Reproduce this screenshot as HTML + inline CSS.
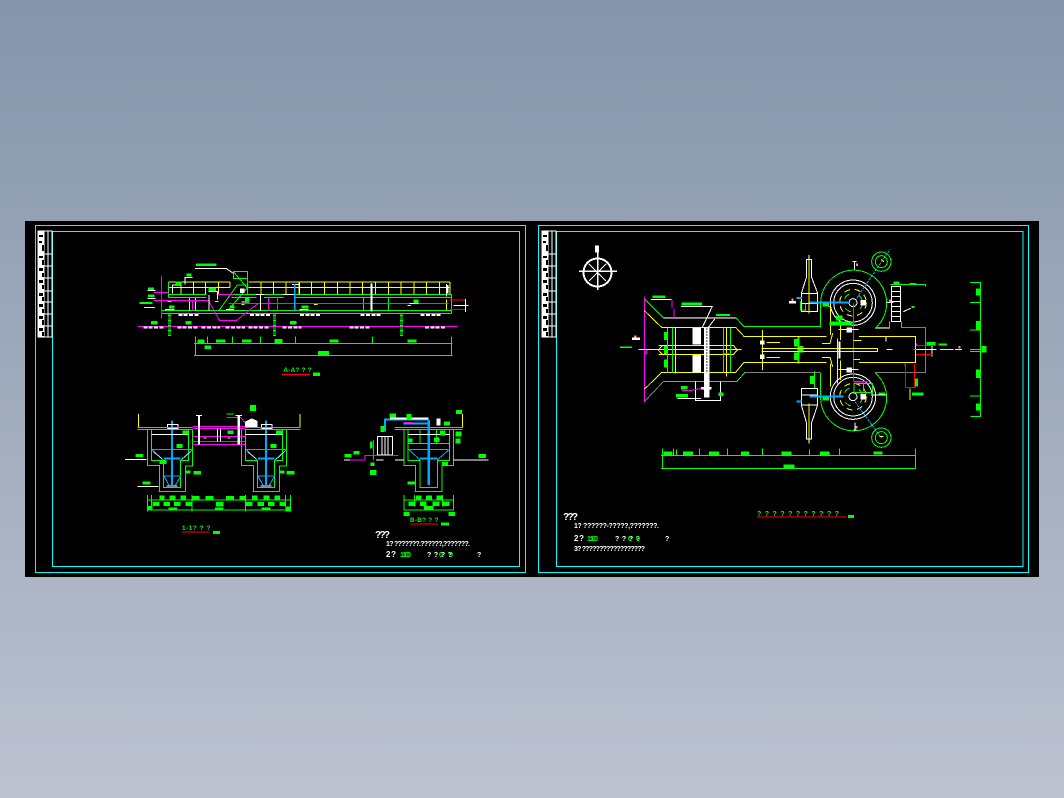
<!DOCTYPE html>
<html><head><meta charset="utf-8"><style>
html,body{margin:0;padding:0;width:1064px;height:798px;overflow:hidden;background:linear-gradient(#8595aa,#bcc2d0)}
svg{position:absolute;left:0;top:0}
text{font-family:"Liberation Sans",sans-serif;font-weight:bold}
.z{fill:none;stroke-width:3}
.z text{stroke:none}
.g{stroke:#0f0}.y{stroke:#ff0}.m{stroke:#f0f}.w{stroke:#fff}.c{stroke:#0af}.r{stroke:#f00}.a{stroke:#808080}.t{stroke:#0ff}
.tg{fill:#0f0;font-size:19px}.tw{fill:#fff;font-size:19px}
</style></head><body>
<svg width="1064" height="798" viewBox="0 0 1064 798" shape-rendering="crispEdges">
<rect x="25" y="221" width="1014" height="356" fill="#000"/>
<g fill="none" stroke="#0ff" stroke-width="1.2">
<rect x="35.5" y="225.5" width="490" height="347"/>
<path d="M52.5 231.5H519.5V566.5H52.5Z"/>
<rect x="538.5" y="225.5" width="490" height="347"/>
<path d="M556.5 231.5H1023V566.5H556.5Z"/>
</g>
<g id="tb" fill="none" stroke="#fff" stroke-width="1">
<rect x="38" y="231" width="6" height="106" fill="#fff"/>
<rect x="38" y="231" width="14" height="106"/>
<path d="M44 231V337M48 231V337M38 254H52M38 266H52M38 278H52M38 291H52M38 302H52M38 314H52M38 326H52"/>
<path stroke="none" fill="#000" d="M39 235h4v2h-4zM39 241h3v2h-3zM42 245h2v6h-2zM39 256h4v2h-4zM42 260h2v5h-2zM39 268h4v3h-4zM42 273h2v4h-2zM39 280h4v3h-4zM42 285h2v4h-2zM39 293h4v3h-4zM42 297h2v4h-2zM39 304h4v3h-4zM42 309h2v4h-2zM39 316h4v3h-4zM42 320h2v5h-2zM39 328h4v3h-4zM42 332h2v4h-2z"/>
</g>
<use href="#tb" x="504"/>

<!-- upper left elevation -->
<g class="z" transform="translate(120,250) scale(.33333)">
<path class="y" d="M145 96H330M385 96H990M145 112H330M385 112H990M145 96V133M183 96V133M221 96V133M256 96V133M295 96V133M330 96V112M423 96V133M460 96V133M498 96V133M537 96V133M575 96V133M613 96V133M652 96V133M690 96V133M728 96V133M766 96V133M805 96V133M843 96V133M882 96V133M920 96V133M958 96V133M990 96V133M208 142V181M226 142V181M980 148V182"/>
<path class="g" d="M145 133H260M335 133H410M432 133H490M527 133H995M145 142H260M335 142H410M432 142H490M527 142H995M125 181H995M125 190H995M995 133V190M145 96V142M298 180L352 105M325 180L385 110M352 105H385M340 65H383V85H340ZM383 65V133M340 65L383 115M730 142V181M805 142V181"/>
<path class="m" stroke-width="3" d="M124 78V205M52 229H1013M325 160H985M100 151H265M290 133H340M265 150L298 211H350L415 160M100 127H145M217 151V181M445 142V181M472 142V181"/>
<path class="w" d="M225 55H318L340 70M195 104V82H218M158 130V105H184M267 135V182M293 125V148M265 125H293M422 135V182M408 134H434M487 134H523M538 98V132M516 103H538M980 102V140M1000 166H1045M1036 147V186M82 122H107M82 145H107M135 178H163M318 178H342M538 178H565M365 156H388M868 160H895"/>
<path class="c" stroke-width="5" d="M524 102V185"/><path class="w" stroke-width="6" d="M755 100V185"/>
<path class="r" d="M990 150H1035M990 178H1035"/>
<path class="y" d="M72 172H105M142 155H155M285 155H296M364 164H374M582 163H593M862 166H873"/>
<path fill="#fff" stroke="none" d="M360 115h14v14h-14zM978 105h8v26h-8z"/>
<path d="M149 190V258M463 190V260M845 190V260" class="g" stroke-width="9" stroke-dasharray="3 2"/>
<path d="M175 195H235M390 195H450M540 195H600M722 195H782M902 195H965M70 233H130M172 233H235M245 233H300M317 233H375M385 233H447M488 233H545M688 233H750M915 233H975" class="w" stroke-width="6" stroke-dasharray="12 4"/>
<path class="g" d="M222 280H998M222 316H998M226 260V316M994 260V316M262 260V280M338 260V280M421 260V280M526 260V280M757 260V280"/>
<path fill="#0f0" stroke="none" d="M232 268h22v11h-22zM288 268h28v10h-28zM366 268h28v10h-28zM463 267h24v12h-24zM628 268h28v10h-28zM862 268h28v10h-28zM254 286h19v11h-19zM594 303h33v13h-33zM228 40h62v8h-62zM200 70h14v10h-14zM166 95h18v10h-18zM84 112h18v8h-18zM84 133h20v8h-20zM58 156h40v6h-40zM147 166h16v10h-16zM266 113h22v10h-22zM375 143h14v10h-14zM330 166h14v10h-14zM545 166h20v10h-20zM880 148h15v11h-15zM93 213h20v11h-20zM197 213h18v11h-18zM510 213h20v11h-20z"/>
<text class="tg" x="490" y="366" textLength="85">A-A? ? ?</text>
<path class="r" d="M486 374H570"/><path fill="#0f0" stroke="none" d="M579 368h21v10h-21z"/>
</g>

<!-- lower sections -->
<g class="z" transform="translate(120,400) scale(.33333)">
<g id="tank">
<path class="g" d="M82 88V197H118V275M94 88V182H130V262H182V182H206V88M218 88V198H197V275M115 275H197"/>
<path class="c" d="M96 149H216M97 150L130 180M216 150L183 180M132 228H182M132 228L148 258M182 228L165 258"/>
<path class="c" stroke-width="7" d="M156 62V255"/><path class="c" stroke-width="6" d="M132 175H182"/>
<path class="w" d="M95 103H205M142 85V74H174V85H142M140 258H172"/>
<path class="w" stroke-width="2" d="M100 155L128 178M212 155L186 178"/>
</g>
<use href="#tank" x="282"/>
<path class="y" d="M55 42V82M540 42V82"/>
<path class="g" d="M52 83H218M52 89H218M375 83H542M375 89H542"/>
<path class="m" d="M218 80H375M218 86H375M218 109H375M218 124H375M218 133H375M320 52H362L378 72M390 25H410"/>
<path class="w" d="M292 85V124M302 85V124"/><path class="w" stroke-width="7" d="M237 48V133M356 48V133"/><path class="w" d="M228 47H246M347 47H366M15 179H80M52 260H115"/>
<path fill="#fff" stroke="none" d="M375 65l20-10 18 8v18h-38z"/>
<path class="y" d="M250 114H260M322 114H332"/>
<path class="g" d="M82 300H512M82 330H512M82 285V335M94 285V320M216 285V335M376 285V335M497 285V320M512 285V335M320 42H342"/>
<path fill="#0f0" stroke="none" d="M47 162h22v9h-22zM187 92h17v12h-17zM170 132h18v12h-18zM118 180h22v12h-22zM220 213h23v10h-23zM195 212h16v8h-16zM67 244h24v10h-24zM322 92h18v10h-18zM452 132h18v12h-18zM468 92h18v12h-18zM500 213h24v10h-24zM480 212h14v8h-14zM390 15h18v18h-18zM118 286h16v12h-16zM148 286h18v12h-18zM182 286h16v12h-16zM218 288h20v12h-20zM256 288h24v12h-24zM318 288h24v12h-24zM358 288h20v12h-20zM396 286h16v12h-16zM430 286h18v12h-18zM464 286h16v12h-16zM98 306h20v12h-20zM130 306h20v12h-20zM162 306h20v12h-20zM196 306h20v12h-20zM288 306h22v14h-22zM378 306h20v12h-20zM412 306h20v12h-20zM444 306h20v12h-20zM478 306h20v12h-20zM82 318h16v14h-16zM145 322h26v9h-26zM285 322h26v9h-26zM425 322h26v9h-26zM497 320h16v14h-16z"/>
<text class="tg" x="186" y="390" textLength="85">1-1? ? ?</text>
<path class="r" d="M186 396H268"/><path fill="#0f0" stroke="none" d="M279 393h21v9h-21z"/>

<!-- right section -->
<path class="g" d="M823 83H1028M823 89H1028M852 89V197H886V275M864 89V182H900V262H952V182H988V89M1000 89V197H966V275M884 275H968M865 130H988M900 88V130M950 88V130"/>
<path class="y" d="M1027 42V82"/>
<path class="c" d="M866 149H986M868 150L900 180M986 150L952 180"/>
<path class="c" stroke-width="7" d="M926 60V255"/><path class="c" stroke-width="6" d="M900 175H952M795 95V58H925M850 70H925"/>
<path class="c" d="M760 120V180"/>
<path class="w" d="M865 103H988M772 109H818V165H772ZM786 109V165M804 109V165M795 109V165M825 180H852M1000 180H1105M672 180H735M768 180H790"/>
<path class="w" stroke-width="6" d="M810 55H925"/>
<path class="m" d="M735 180V166H772M818 166H835M690 180H735M850 68H880"/>
<path fill="#fff" stroke="none" d="M950 55h12v22h-12z"/>
<path class="g" d="M852 285V332M1000 285V332M852 300H1000M852 330H1000M884 285V320M968 285V320"/>
<path fill="#0f0" stroke="none" d="M808 40h20v12h-20zM860 42h15v20h-15zM782 78h11v18h-11zM750 125h8v20h-8zM674 162h20v11h-20zM700 153h18v10h-18zM752 188h12v10h-12zM750 210h20v15h-20zM862 115h16v12h-16zM942 112h16v14h-16zM960 92h16v14h-16zM972 65h18v12h-18zM1006 95h18v14h-18zM1006 115h16v16h-16zM1008 30h18v12h-18zM1076 162h22v12h-22zM966 186h18v12h-18zM862 244h24v10h-24zM888 286h16v14h-16zM918 286h18v14h-18zM950 286h16v14h-16zM866 304h20v14h-20zM900 304h20v14h-20zM938 304h20v14h-20zM968 304h20v14h-20zM912 318h28v12h-28zM850 336h18v12h-18zM985 336h20v12h-20z"/>
<text class="tg" x="870" y="366" textLength="85">B-B? ? ?</text>
<path class="r" d="M870 372H954"/><path fill="#0f0" stroke="none" d="M963 368h24v9h-24z"/>
</g>

<!-- plan left part -->
<g class="z" transform="translate(620,240) scale(.33333)">
<path class="m" d="M73 170V488M70 328H80V340H73"/>
<path class="g" d="M75 178L130 233H347L372 260H600"/>
<path class="a" stroke-width="3" d="M130 235H347M372 397H600M75 483L130 425"/>
<path class="g" d="M130 425H350L375 397"/>
<path class="y" d="M73 212L125 262H347L372 289H600M73 448L125 397H347L372 367H600M55 328H365M115 316H340M115 344H340M115 330L128 316M115 330L128 344M340 316L352 330L340 344M427 270V390M440 307H480M440 352H480M600 325H425M600 334H425M167 262V400M320 262V410"/>
<path class="g" d="M142 262V397M158 262V397M310 262V397M331 262V397"/>
<path fill="#fff" stroke="none" d="M218 264h25v50h-25zM218 345h25v53h-25zM252 262h16v210h-16z"/>
<path stroke="#000" stroke-width="5" stroke-dasharray="4 5" d="M260 265V395"/>
<path class="w" d="M93 178H155M183 199H277L247 262M285 236L265 262M226 425V481H302V425M172 475H243M36 298H60"/>
<path class="w" stroke-width="8" d="M243 445H274M258 430V468"/>
<path class="m" d="M156 178V205M162 205V235M186 451H215L245 445M312 340H332"/>
<path fill="#fff" stroke="none" d="M36 293h24v7h-24zM420 301h14v13h-14zM420 344h14v13h-14z"/>
<path fill="#f88" stroke="none" d="M42 286h8v7h-8z"/>
<path fill="#0f0" stroke="none" d="M97 166h40v8h-40zM184 187h62v10h-62zM288 222h42v6h-42zM132 276h10v24h-10zM132 318h10v24h-10zM132 358h10v24h-10zM183 438h20v10h-20zM168 462h36v10h-36zM295 458h16v10h-16zM522 297h14v22h-14zM522 338h14v22h-14zM533 290h6v80h-6zM534 318h17v20h-17zM0 319h36v5h-36zM570 408h14v24h-14z"/>
<path class="g" d="M583 393V445"/>
<g id="sluice">
<path class="w" d="M544 160H593V215H544ZM544 190H593M544 160L560 110V58H574V110L593 160M567 45V60"/>
<path class="y" d="M567 58V220"/>
<path class="c" stroke-width="6" d="M568 188H600M530 174H546"/>
<path class="g" d="M542 185V210H555M556 190V215"/>
<path fill="#fff" stroke="none" d="M507 183h21v8h-21z"/><path fill="#f88" stroke="none" d="M514 175h7v8h-7z"/>
</g>
<g transform="translate(0,655) scale(1,-1)"><path class="w" d="M544 160H593V210H544ZM544 190H593M544 160L560 105V58H574V105L593 160M567 45V60"/><path class="y" d="M567 58V165"/><path class="c" stroke-width="6" d="M568 185H600M530 170H546"/></g>
<path class="g" d="M123 646H600M123 686H600M127 625V686M160 625V646M169 628V646M238 625V646M322 625V646M427 625V646M568 628V646"/>
<path fill="#0f0" stroke="none" d="M131 634h26v12h-26zM189 634h30v11h-30zM267 634h30v11h-30zM363 634h24v12h-24zM484 634h30v11h-30zM490 673h34v12h-34z"/>
</g>

<!-- plan right part -->
<g class="z" transform="translate(790,240) scale(.33333)">
<path class="g" d="M92 262V190A99 99 0 1 1 255 265M92 398V470A99 99 0 1 0 255 398"/>
<circle class="w" cx="189" cy="188" r="68"/><circle class="w" cx="189" cy="188" r="58"/>
<circle class="w" cx="189" cy="470" r="68"/><circle class="w" cx="189" cy="470" r="58"/>
<circle class="w" cx="189" cy="188" r="12"/><circle class="w" cx="189" cy="470" r="12"/>
<circle class="y" cx="189" cy="188" r="40" stroke-dasharray="18 14"/><circle class="y" cx="189" cy="470" r="40" stroke-dasharray="18 14"/>
<circle class="g" cx="189" cy="188" r="28" stroke-dasharray="20 30"/><circle class="g" cx="189" cy="470" r="28" stroke-dasharray="20 30"/>
<path fill="#fff" stroke="none" d="M212 180h16v16h-16zM212 462h16v16h-16zM170 262h16v16h-16zM170 382h16v16h-16z"/>
<path class="m" d="M190 190V425M192 425H232M85 188H96M85 470H96"/>
<path class="c" stroke-width="6" d="M60 188H180M60 470H160"/>
<path class="c" stroke-dasharray="8 3" d="M200 175L300 28M195 485L275 595"/>
<circle class="g" cx="274" cy="65" r="29"/><circle class="g" cx="274" cy="65" r="18"/>
<circle class="g" cx="274" cy="593" r="29"/><circle class="g" cx="274" cy="593" r="18"/>
<path class="y" d="M274 58l8 8M268 590h12"/>
<path class="a" d="M255 265H298V245M335 245V262H407V398H255"/>
<path class="g" d="M298 262V245M335 262V245M260 262H298"/>
<path class="w" d="M304 140H332V245H304ZM304 155H332M304 170H332M304 185H332M304 200H332M304 215H332M304 230H332M340 215L362 205M290 187H310M188 65H200M194 65V88M190 570H200M195 548V570M145 268H205M145 388H205M245 465H290M370 328H440M426 315V350M288 290V304M290 328H308M495 328H516"/>
<path class="g" d="M302 133H407V140M358 130H380"/>
<path class="y" d="M207 290H376V345M207 367H376V345M0 290H110M0 367H110M0 326H262L262 334H0M96 352H120L128 380M96 310H120L128 280M115 200H122V285M122 440V370M143 295V430M152 250V300M152 362V420M190 302H215M190 358H210M450 328H490"/>
<path class="w" stroke-width="6" d="M148 305V355"/>
<path class="y" stroke-width="3" d="M360 445V480"/>
<path class="r" d="M378 316H427M378 344H427M347 372V442H378M373 372V442"/>
<path class="m" d="M192 426H232M345 370V378M380 310V318M370 328H380"/>
<path class="g" d="M192 430H248V458H192ZM220 430V455"/>
<path fill="#f88" stroke="none" d="M198 70h6v8h-6zM197 558h6v8h-6zM505 318h6v8h-6zM297 178h6v10h-6z"/>
<path fill="#0f0" stroke="none" d="M118 245h70v12h-70zM138 226h20v16h-20zM97 190h20v10h-20zM97 472h20v10h-20zM310 124h18v9h-18zM410 306h26v10h-26zM445 310h26v6h-26zM366 458h34v8h-34zM375 416h9v24h-9zM364 198h10v6h-10zM265 458h20v6h-20zM90 634h28v12h-28zM250 634h28v10h-28z"/>
<path class="g" d="M540 127H572V530H542M540 187H572M540 270H572M540 328H572M540 335H572M540 468H572M0 646H378M0 685H378M58 628V646M148 625V646M377 625V685"/>
<path fill="#0f0" stroke="none" d="M558 145h12v22h-12zM558 243h12v25h-12zM574 318h16v20h-16zM558 388h12v26h-12zM558 490h12v22h-12z"/>
</g>

<!-- compass -->
<g fill="none" stroke="#fff">
<circle cx="597.5" cy="272.5" r="14" stroke-width="2"/>
<path stroke-width="1.5" d="M597.5 252V290M579 271H617"/>
<path stroke-width="1" d="M589 264L606 281M606 264L589 281"/>
<rect x="595.5" y="246" width="3" height="6" fill="#fff"/>
</g>

<!-- notes -->
<g fill="#fff" font-size="7">
<text x="375" y="538" font-size="10" textLength="15">???</text>
<text x="386" y="546" textLength="84">1? ???????.??????,???????.</text>
<text x="386" y="557" font-size="8" textLength="10">2?</text>
<text x="427" y="557" textLength="25">????</text>
<text x="477" y="557">?</text>
<text x="563" y="520" font-size="10" textLength="15">???</text>
<text x="574" y="528" textLength="85">1? ??????-?????,???????.</text>
<text x="574" y="541" font-size="8" textLength="10">2?</text>
<text x="615" y="541" textLength="25">????</text>
<text x="665" y="541">?</text>
<text x="574" y="551" textLength="71">3? ??????????????????</text>
</g>
<g fill="#0f0" font-size="7">
<text x="400" y="557" textLength="11">1:100</text>
<text x="439" y="557" textLength="14">00</text>
<text x="587" y="541" textLength="11">1:100</text>
<text x="628" y="541" textLength="12">00</text>
<text x="757" y="516" textLength="82">? ? ? ? ? ? ? ? ? ? ?</text>
</g>
<path d="M757 517H847" stroke="#f00" stroke-width="1"/>
<rect x="848" y="515" width="6" height="3" fill="#0f0"/>
</svg>
</body></html>
